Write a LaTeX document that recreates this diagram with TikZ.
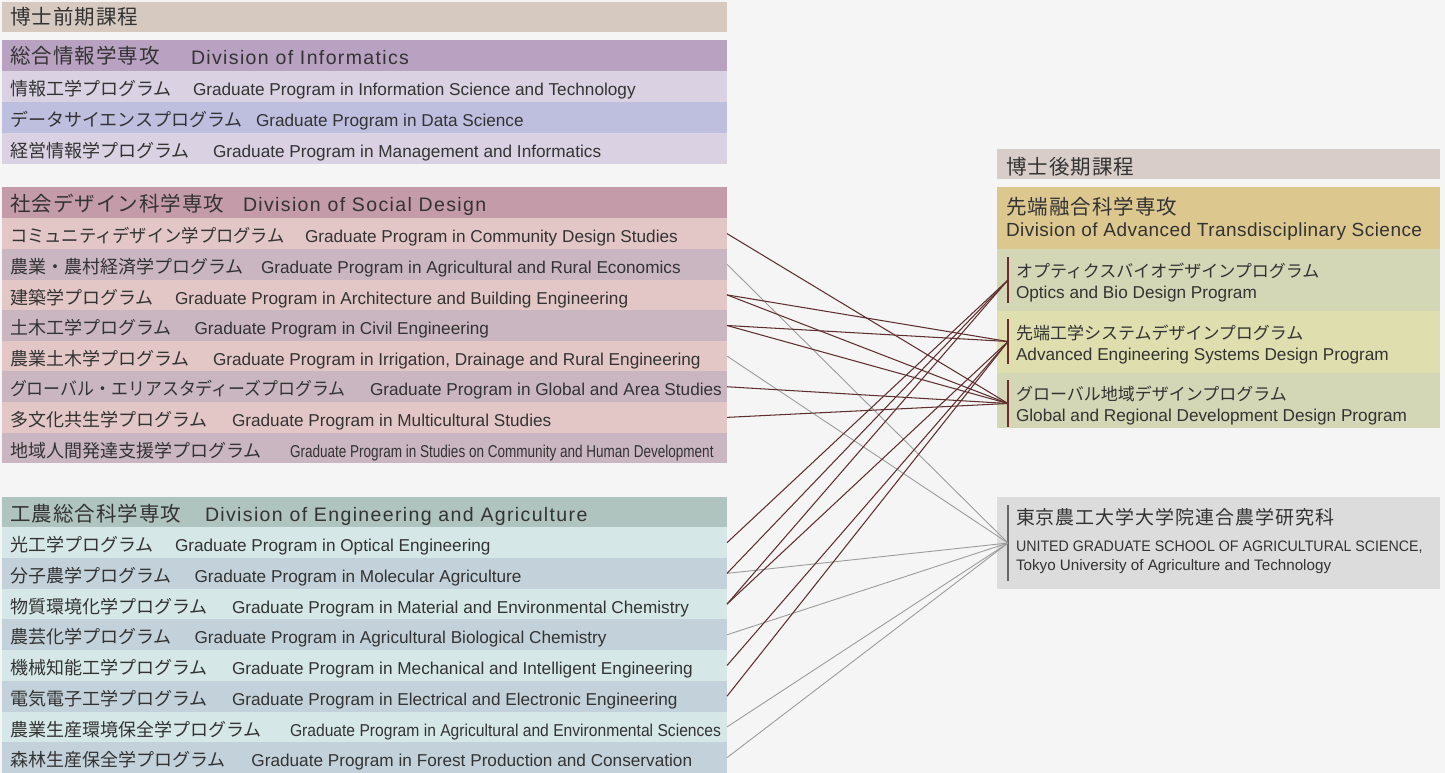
\documentclass[tikz,border=0pt]{standalone}
\usepackage{fontspec}
\usepackage{graphicx}
\setmainfont{Liberation Sans}
\newfontfamily\jp{Noto Sans CJK JP}
\newfontfamily\jpw{Noto Sans CJK JP}[LetterSpace=5]
\newfontfamily\enw{Liberation Sans}[LetterSpace=7]
\newfontfamily\enm{Liberation Sans}[LetterSpace=2.4]
\definecolor{bgc}{HTML}{F5F5F5}
\definecolor{phaseL}{HTML}{D5C9C0}
\definecolor{phaseR}{HTML}{D9CDC9}
\definecolor{infH}{HTML}{B9A1C1}
\definecolor{infA}{HTML}{DAD1E3}
\definecolor{infB}{HTML}{BEBEDF}
\definecolor{socH}{HTML}{C49BA8}
\definecolor{socA}{HTML}{E3C7C6}
\definecolor{socB}{HTML}{C9B6C1}
\definecolor{engH}{HTML}{AFC3BF}
\definecolor{engA}{HTML}{D6E7E7}
\definecolor{engB}{HTML}{C3D2DA}
\definecolor{advH}{HTML}{DCC78F}
\definecolor{advA}{HTML}{D3D7B5}
\definecolor{advB}{HTML}{DEDEAE}
\definecolor{unitc}{HTML}{DCDCDC}
\definecolor{txt}{HTML}{333333}
\definecolor{linkc}{HTML}{5E2F2F}
\definecolor{glinkc}{HTML}{9C9C9C}
\definecolor{barc}{HTML}{6E2B2B}
\definecolor{gbarc}{HTML}{666666}
\tikzset{
  cell/.style={rectangle, draw=none, inner sep=0pt, outer sep=0pt, anchor=north west, minimum width=725pt},
  rcell/.style={cell, minimum width=443pt},
  tx/.style={inner sep=0pt, outer sep=0pt, anchor=base west, text=txt},
  jpr/.style={tx, font=\jp\fontsize{18}{20}\selectfont},
  enr/.style={tx, font=\fontsize{17.2}{20}\selectfont},
  jph/.style={tx, font=\jpw\fontsize{20.5}{22}\selectfont},
  enh/.style={tx, font=\enw\fontsize{19.5}{22}\selectfont},
  enhr/.style={tx, font=\enm\fontsize{19}{22}\selectfont},
  jpp/.style={tx, font=\jp\fontsize{17}{20}\selectfont},
  jpu/.style={tx, font=\jpw\fontsize{19}{20}\selectfont},
  enu/.style={tx, font=\fontsize{15.2}{18}\selectfont},
  vbar/.style={rectangle, fill=barc, inner sep=0pt, outer sep=0pt, minimum width=1.3pt},
  dlink/.style={draw=linkc, line width=1.05pt},
  glink/.style={draw=glinkc, line width=0.9pt}
}
\begin{document}
\begin{tikzpicture}[x=1pt,y=-1pt]
\fill[bgc] (0,0) rectangle (1445,773);
\useasboundingbox (0,0) rectangle (1445,773);

% ---------- left column ----------
\node[cell, fill=phaseL, minimum height=30pt] (pre) at (2,2) {};
\node[jph] (preT) at (10,25) {博士前期課程};

\node[cell, fill=infH, minimum height=31pt] (ih) at (2,40) {};
\node[jph] (ihj) at (10,64) {総合情報学専攻};
\node[enh] (ihe) at (191,64.5) {Division of Informatics};
\node[cell, fill=infA, minimum height=31pt] (i1) at (2,71) {};
\node[jpr] (i1j) at (10,95.5) {情報工学プログラム};
\node[enr] (i1e) at (193,95.5) {Graduate Program in Information Science and Technology};
\node[cell, fill=infB, minimum height=31pt] (i2) at (2,102) {};
\node[jpr] (i2j) at (10,126.5) {データサイエンスプログラム};
\node[enr] (i2e) at (256,126.5) {Graduate Program in Data Science};
\node[cell, fill=infA, minimum height=31pt] (i3) at (2,133) {};
\node[jpr] (i3j) at (10,157.5) {経営情報学プログラム};
\node[enr] (i3e) at (213,157.5) {Graduate Program in Management and Informatics};

\node[cell, fill=socH, minimum height=31.3pt] (sh) at (2,187) {};
\node[jph] (shj) at (10,211) {社会デザイン科学専攻};
\node[enh] (she) at (243,211.5) {Division of Social Design};
\node[cell, fill=socA, minimum height=30.65pt] (s1) at (2,218.3) {};
\node[jpr] (s1j) at (10,242.8) {\scalebox{0.96}[1]{コミュニティデザイン学プログラム}};
\node[enr] (s1e) at (305,242.8) {Graduate Program in Community Design Studies};
\node[cell, fill=socB, minimum height=30.65pt] (s2) at (2,248.925) {};
\node[jpr] (s2j) at (10,273.4) {農業・農村経済学プログラム};
\node[enr] (s2e) at (261,273.4) {Graduate Program in Agricultural and Rural Economics};
\node[cell, fill=socA, minimum height=30.65pt] (s3) at (2,279.55) {};
\node[jpr] (s3j) at (10,304) {建築学プログラム};
\node[enr] (s3e) at (175,304) {Graduate Program in Architecture and Building Engineering};
\node[cell, fill=socB, minimum height=30.65pt] (s4) at (2,310.175) {};
\node[jpr] (s4j) at (10,334.7) {土木工学プログラム};
\node[enr] (s4e) at (194.6,334.7) {Graduate Program in Civil Engineering};
\node[cell, fill=socA, minimum height=30.65pt] (s5) at (2,340.8) {};
\node[jpr] (s5j) at (10,365.3) {農業土木学プログラム};
\node[enr] (s5e) at (213,365.3) {Graduate Program in Irrigation, Drainage and Rural Engineering};
\node[cell, fill=socB, minimum height=30.65pt] (s6) at (2,371.425) {};
\node[jpr] (s6j) at (10,395.9) {\scalebox{0.94}[1]{グローバル・エリアスタディーズプログラム}};
\node[enr] (s6e) at (370,395.9) {Graduate Program in Global and Area Studies};
\node[cell, fill=socA, minimum height=30.65pt] (s7) at (2,402.05) {};
\node[jpr] (s7j) at (10,426.6) {多文化共生学プログラム};
\node[enr] (s7e) at (232,426.6) {Graduate Program in Multicultural Studies};
\node[cell, fill=socB, minimum height=30.65pt] (s8) at (2,432.675) {};
\node[jpr] (s8j) at (10,457.2) {地域人間発達支援学プログラム};
\node[enr] (s8e) at (290,457.2) {\scalebox{0.787}[1]{Graduate Program in Studies on Community and Human Development}};

\node[cell, fill=engH, minimum height=30.3pt] (eh) at (2,497) {};
\node[jph] (ehj) at (10,521) {工農総合科学専攻};
\node[enh] (ehe) at (205,521.5) {Division of Engineering and Agriculture};
\node[cell, fill=engA, minimum height=30.72pt] (e1) at (2,527.3) {};
\node[jpr] (e1j) at (10,551.8) {光工学プログラム};
\node[enr] (e1e) at (175,551.8) {Graduate Program in Optical Engineering};
\node[cell, fill=engB, minimum height=30.72pt] (e2) at (2,558.01) {};
\node[jpr] (e2j) at (10,582.5) {分子農学プログラム};
\node[enr] (e2e) at (194.6,582.5) {Graduate Program in Molecular Agriculture};
\node[cell, fill=engA, minimum height=30.72pt] (e3) at (2,588.72) {};
\node[jpr] (e3j) at (10,613.2) {物質環境化学プログラム};
\node[enr] (e3e) at (232,613.2) {Graduate Program in Material and Environmental Chemistry};
\node[cell, fill=engB, minimum height=30.72pt] (e4) at (2,619.43) {};
\node[jpr] (e4j) at (10,643.9) {農芸化学プログラム};
\node[enr] (e4e) at (194.6,643.9) {Graduate Program in Agricultural Biological Chemistry};
\node[cell, fill=engA, minimum height=30.72pt] (e5) at (2,650.14) {};
\node[jpr] (e5j) at (10,674.6) {機械知能工学プログラム};
\node[enr] (e5e) at (232,674.6) {Graduate Program in Mechanical and Intelligent Engineering};
\node[cell, fill=engB, minimum height=30.72pt] (e6) at (2,680.85) {};
\node[jpr] (e6j) at (10,705.4) {電気電子工学プログラム};
\node[enr] (e6e) at (232,705.4) {Graduate Program in Electrical and Electronic Engineering};
\node[cell, fill=engA, minimum height=30.72pt] (e7) at (2,711.56) {};
\node[jpr] (e7j) at (10,736.1) {農業生産環境保全学プログラム};
\node[enr] (e7e) at (290,736.1) {\scalebox{0.909}[1]{Graduate Program in Agricultural and Environmental Sciences}};
\node[cell, fill=engB, minimum height=30.72pt] (e8) at (2,742.27) {};
\node[jpr] (e8j) at (10,766.8) {森林生産保全学プログラム};
\node[enr] (e8e) at (251.4,766.8) {Graduate Program in Forest Production and Conservation};

% ---------- right column ----------
\node[rcell, fill=phaseR, minimum height=30pt] (post) at (997,149) {};
\node[jph] (postT) at (1006,174) {博士後期課程};

\node[rcell, fill=advH, minimum height=62pt] (ah) at (997,187) {};
\node[jph] (ahj) at (1006,214) {先端融合科学専攻};
\node[enhr] (ahe) at (1006,236.5) {Division of Advanced Transdisciplinary Science};

\node[rcell, fill=advA, minimum height=62pt] (opt) at (997,249) {};
\node[vbar, minimum height=46pt] (optbar) at (1008,280) {};
\node[jpp] (optj) at (1016,277) {オプティクスバイオデザインプログラム};
\node[enr] (opte) at (1016,298) {Optics and Bio Design Program};

\node[rcell, fill=advB, minimum height=62pt] (aes) at (997,311) {};
\node[vbar, minimum height=45pt] (aesbar) at (1008,341.5) {};
\node[jpp] (aesj) at (1016,339) {先端工学システムデザインプログラム};
\node[enr] (aese) at (1016,360) {Advanced Engineering Systems Design Program};

\node[rcell, fill=advA, minimum height=55pt] (grd) at (997,373) {};
\node[vbar, minimum height=47pt] (grdbar) at (1008,403.5) {};
\node[jpp] (grdj) at (1016,400) {グローバル地域デザインプログラム};
\node[enr] (grde) at (1016,421) {Global and Regional Development Design Program};

\node[rcell, fill=unitc, minimum height=92pt] (uni) at (997,497) {};
\node[vbar, fill=gbarc, minimum width=1.1pt, minimum height=76pt] (unibar) at (1008,543) {};
\node[jpu] (unij) at (1016,524) {東京農工大学大学院連合農学研究科};
\node[enu] (unie1) at (1016,551.5) {\scalebox{0.936}[1]{UNITED GRADUATE SCHOOL OF AGRICULTURAL SCIENCE,}};
\node[enu] (unie2) at (1016,570) {Tokyo University of Agriculture and Technology};

% ---------- connectors ----------
\draw[glink] (s2.east) -- (unibar);
\draw[glink] (s5.east) -- (unibar);
\draw[glink] (e2.east) -- (unibar);
\draw[glink] (e4.east) -- (unibar);
\draw[glink] (e7.east) -- (unibar);
\draw[glink] (e8.east) -- (unibar);

\draw[dlink] (s1.east) -- (grdbar);
\draw[dlink] (s3.east) -- (grdbar);
\draw[dlink] (s4.east) -- (grdbar);
\draw[dlink] (s6.east) -- (grdbar);
\draw[dlink] (s7.east) -- (grdbar);

\draw[dlink] (s3.east) -- (aesbar);
\draw[dlink] (s4.east) -- (aesbar);
\draw[dlink] (e3.east) -- (aesbar);
\draw[dlink] (e5.east) -- (aesbar);
\draw[dlink] (e6.east) -- (aesbar);

\draw[dlink] (e1.east) -- (optbar);
\draw[dlink] (e2.east) -- (optbar);
\draw[dlink] (e3.east) -- (optbar);
\end{tikzpicture}
\end{document}
